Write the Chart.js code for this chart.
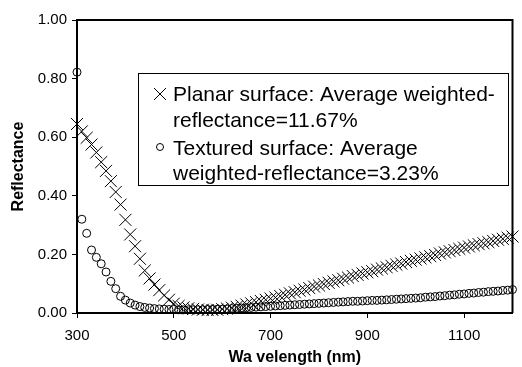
<!DOCTYPE html>
<html>
<head>
<meta charset="utf-8">
<script src="https://cdn.jsdelivr.net/npm/chart.js@4/dist/chart.umd.min.js"></script>
<style>
  body { margin: 0; background: #fff; }
  #wrap { width: 522px; height: 367px; }
</style>
</head>
<body>
<div id="wrap"><canvas id="chart" width="522" height="367"></canvas></div>
<script>
// ── Data ───────────────────────────────────────────────
// wavelength grid, 300..1200 nm in 10 nm steps
const WAVELENGTHS = [];
for (let w = 300; w <= 1200; w += 10) WAVELENGTHS.push(w);

const PLANAR = [
  0.645, 0.620, 0.598, 0.575, 0.548, 0.515, 0.485, 0.450, 0.413, 0.370,
  0.318, 0.268, 0.228, 0.185, 0.145, 0.118, 0.097, 0.078, 0.060, 0.045,
  0.032, 0.024, 0.019, 0.016, 0.014, 0.012, 0.011, 0.010, 0.010, 0.011,
  0.013, 0.015, 0.018, 0.021, 0.025, 0.029, 0.033, 0.037, 0.041, 0.045,
  0.049, 0.053, 0.058, 0.062, 0.067, 0.071, 0.076, 0.080, 0.085, 0.090,
  0.094, 0.099, 0.103, 0.108, 0.112, 0.117, 0.121, 0.126, 0.130, 0.135,
  0.139, 0.143, 0.148, 0.152, 0.156, 0.161, 0.165, 0.169, 0.174, 0.178,
  0.182, 0.186, 0.190, 0.194, 0.198, 0.203, 0.207, 0.211, 0.215, 0.219,
  0.223, 0.227, 0.231, 0.235, 0.238, 0.242, 0.246, 0.250, 0.253, 0.257,
  0.261
];

const TEXTURED = [
  0.822, 0.320, 0.272, 0.215, 0.190, 0.168, 0.140, 0.108, 0.083, 0.057,
  0.044, 0.034, 0.027, 0.022, 0.019, 0.017, 0.015, 0.014, 0.013, 0.012,
  0.012, 0.011, 0.011, 0.011, 0.011, 0.011, 0.011, 0.012, 0.012, 0.013,
  0.013, 0.014, 0.015, 0.016, 0.017, 0.018, 0.019, 0.020, 0.021, 0.022,
  0.023, 0.024, 0.025, 0.026, 0.027, 0.028, 0.029, 0.030, 0.031, 0.032,
  0.033, 0.034, 0.035, 0.036, 0.037, 0.038, 0.039, 0.040, 0.040, 0.041,
  0.042, 0.043, 0.043, 0.044, 0.045, 0.046, 0.047, 0.048, 0.049, 0.050,
  0.051, 0.052, 0.054, 0.055, 0.056, 0.058, 0.059, 0.061, 0.062, 0.064,
  0.065, 0.067, 0.068, 0.070, 0.071, 0.073, 0.074, 0.075, 0.077, 0.078,
  0.080
];

const X_TICKS = [300, 500, 700, 900, 1100];
const Y_TICKS = [0, 0.2, 0.4, 0.6, 0.8, 1.0];

const LEGEND_LINES = [
  ['Planar surface: Average weighted-', 'reflectance=11.67%'],
  ['Textured surface: Average', 'weighted-reflectance=3.23%']
];

const FONT = "'Liberation Sans', Arial, sans-serif";

const toXY = ys => WAVELENGTHS.map((w, i) => ({ x: w, y: ys[i] }));

// ── Frame + boxed legend ───────────────────────────────
const framePlugin = {
  id: 'frame',
  afterDraw(chart) {
    const { ctx, chartArea: a } = chart;
    ctx.save();
    ctx.strokeStyle = '#000';
    ctx.lineWidth = 2;
    ctx.beginPath();
    ctx.moveTo(a.left, a.top);
    ctx.lineTo(a.right, a.top);
    ctx.lineTo(a.right, a.bottom);
    ctx.stroke();

    // legend box
    ctx.lineWidth = 1;
    ctx.fillStyle = '#fff';
    ctx.fillRect(138.5, 73.5, 370, 112);
    ctx.strokeRect(138.5, 73.5, 370, 112);

    ctx.fillStyle = '#000';
    ctx.font = '21px ' + FONT;
    ctx.textBaseline = 'alphabetic';
    const baselines = [[101, 127], [155, 180]];
    LEGEND_LINES.forEach((lines, i) => {
      lines.forEach((t, j) => ctx.fillText(t, 173, baselines[i][j]));
    });

    // markers
    ctx.beginPath();
    ctx.moveTo(154, 88); ctx.lineTo(166, 100);
    ctx.moveTo(166, 88); ctx.lineTo(154, 100);
    ctx.stroke();
    ctx.beginPath();
    ctx.arc(160, 147, 3.5, 0, Math.PI * 2);
    ctx.stroke();
    ctx.restore();
  }
};

// ── Chart ──────────────────────────────────────────────
new Chart(document.getElementById('chart'), {
  type: 'scatter',
  data: {
    datasets: [
      {
        label: 'Textured',
        data: toXY(TEXTURED),
        pointStyle: 'circle',
        pointRadius: 4,
        borderColor: '#000',
        backgroundColor: 'rgba(0,0,0,0)',
        borderWidth: 1,
        clip: false
      },
      {
        label: 'Planar',
        data: toXY(PLANAR),
        pointStyle: 'crossRot',
        pointRadius: 8.5,
        borderColor: '#000',
        borderWidth: 1,
        clip: false
      }
    ]
  },
  options: {
    responsive: false,
    animation: false,
    events: [],
    layout: { padding: { top: 20, right: 3, left: 0, bottom: 0 } },
    plugins: { legend: { display: false }, tooltip: { enabled: false } },
    scales: {
      x: {
        type: 'linear',
        min: 300, max: 1200,
        afterBuildTicks: s => { s.ticks = X_TICKS.map(v => ({ value: v })); },
        afterFit: s => { s.height = 54; },
        grid: { drawOnChartArea: false, drawTicks: true, tickLength: 5, color: '#000' },
        border: { color: '#000', width: 2 },
        ticks: {
          color: '#000', padding: 9, maxRotation: 0, font: { family: FONT, size: 15 },
          callback: v => String(v)
        },
        title: {
          display: true, text: 'Wa velength (nm)', color: '#000',
          font: { family: FONT, size: 16, weight: 'bold' },
          padding: { top: 0, bottom: 0 }
        }
      },
      y: {
        min: 0, max: 1,
        afterBuildTicks: s => { s.ticks = Y_TICKS.map(v => ({ value: v })); },
        afterFit: s => { s.width = 77; },
        grid: { drawOnChartArea: false, drawTicks: true, tickLength: 5, color: '#000' },
        border: { color: '#000', width: 2 },
        ticks: {
          color: '#000', padding: 5, font: { family: FONT, size: 15 },
          callback: v => Number(v).toFixed(2)
        },
        title: {
          display: true, text: 'Reflectance', color: '#000',
          font: { family: FONT, size: 16, weight: 'bold' },
          padding: { top: 9, bottom: 0 }
        }
      }
    }
  },
  plugins: [framePlugin]
});
</script>
</body>
</html>
